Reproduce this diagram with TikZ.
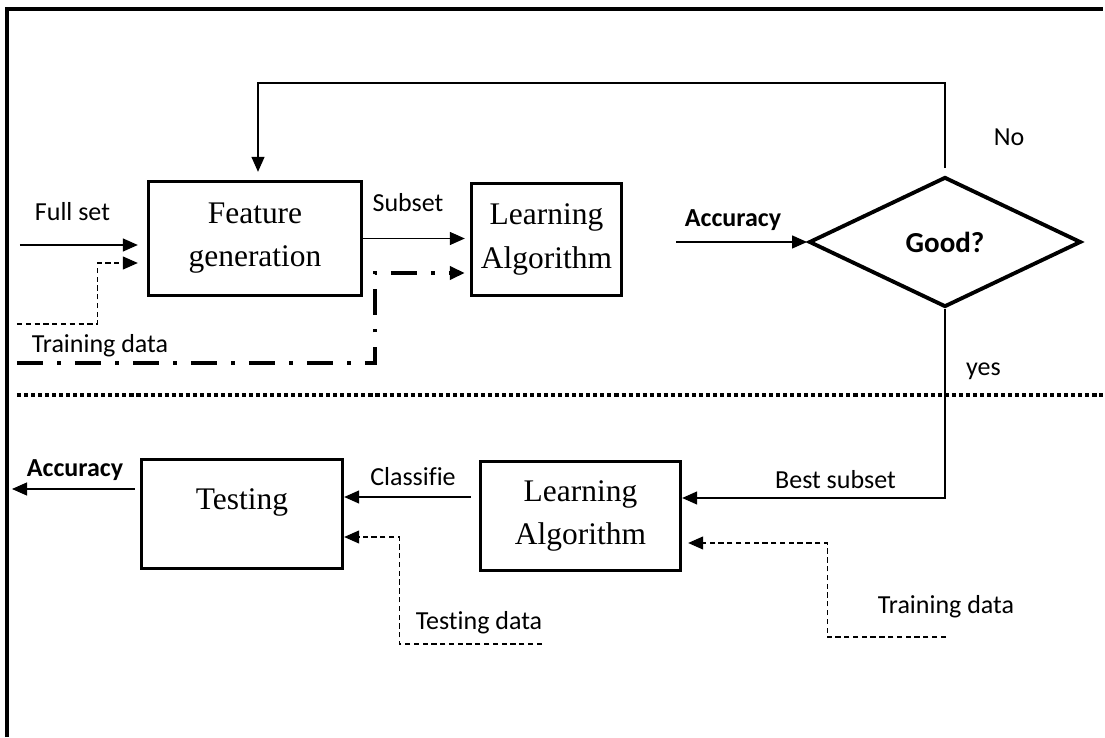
\documentclass[tikz,border=0pt]{standalone}
\usepackage{fontspec}
\setmainfont{Liberation Serif}
\newfontfamily\etiq[Ligatures=NoCommon]{Carlito}
\usetikzlibrary{calc}
\usetikzlibrary{arrows.meta}
\usetikzlibrary{shapes.geometric}
\tikzstyle{bloc}      =[draw, line width=1.9pt, align=center, inner sep=0pt, font=\fontsize{17.9}{24.5}\selectfont]
\tikzstyle{decision}  =[draw, diamond, line width=2.2pt, inner sep=0pt, minimum width=5.44cm, minimum height=2.6cm, font=\etiq\bfseries\fontsize{16.5}{20}\selectfont]
\tikzstyle{etiquette} =[inner sep=0pt, font=\etiq\fontsize{14.8}{18}\selectfont]
\tikzstyle{fleche}    =[line width=0.7pt, -{Triangle[length=0.3cm,width=0.26cm]}]
\tikzstyle{donnees}   =[fleche, line width=0.6pt, dash pattern=on 3pt off 2pt]
\tikzstyle{mixte}     =[line width=2.3pt, dash pattern=on 15pt off 8pt on 2pt off 8pt, -{Triangle[length=0.3cm,width=0.26cm]}]

\begin{document}
\begin{tikzpicture}
 \useasboundingbox (0,0) rectangle (22.1,14.74);
 % cadre et separation
 \draw[line width=2.6pt] (0.14,0) -- (0.14,14.56) -- (22.06,14.56);
 \draw[line width=2.3pt, dash pattern=on 2.3pt off 1.7pt] (0.34,6.84) -- (22.06,6.84);
 % selection
 \node[bloc, minimum width=4.26cm, minimum height=2.28cm] (feat) at (5.10,9.97) {Feature\\generation};
 \node[bloc, minimum width=3.0cm, minimum height=2.24cm] (learn) at (10.93,9.95) {Learning\\Algorithm};
 \node[decision] (good) at (18.9,9.9) {Good?};
 % test
 \node[bloc, minimum width=4.02cm, minimum height=2.18cm] (test) at (4.84,4.46) {};
 \node[font=\fontsize{17.9}{24.5}\selectfont, inner sep=0pt] (testlbl) at (4.84,4.685) {Testing};
 \node[bloc, minimum width=4.0cm, minimum height=2.18cm] (learnb) at (11.61,4.42) {Learning\\Algorithm};
 % etiquettes
 \node[etiquette] (lfull) at (1.45,10.5) {Full set};
 \node[etiquette] (ltrain) at (2.0,7.83) {Training data};
 \node[etiquette] (lsub) at (8.16,10.68) {Subset};
 \node[etiquette, font=\etiq\bfseries\fontsize{14.8}{18}\selectfont] (lacc) at (14.66,10.34) {Accuracy};
 \node[etiquette] (lno) at (20.18,12.0) {No};
 \node[etiquette] (lyes) at (19.67,7.31) {yes};
 \node[etiquette] (lbest) at (16.71,5.14) {Best subset};
 \node[etiquette] (lclass) at (8.26,5.2) {Classifie};
 \node[etiquette, font=\etiq\bfseries\fontsize{14.8}{18}\selectfont] (laccb) at (1.5,5.34) {Accuracy};
 \node[etiquette] (ltest) at (9.58,2.28) {Testing data};
 \node[etiquette] (ltrainb) at (18.92,2.6) {Training data};
 % points de depart
 \coordinate (entree) at (0.40,9.84);
 \coordinate (entreeapp) at (0.34,8.26);
 \coordinate (mixdep) at (0.34,7.48);
 \coordinate (precdep) at (13.52,9.9);
 \coordinate (retour) at (5.16,13.08);
 \coordinate (meilleur) at (18.9,4.78);
 \coordinate (classdep) at ($(learnb.west)+(0,0.38)$);
 \coordinate (precfin) at (0.24,4.96);
 \coordinate (testdep) at (10.84,1.86);
 \coordinate (testcoin) at ($(test.east)+(1.1,-0.46)$);
 \coordinate (appdep) at (18.92,2.0);
 \coordinate (appcoin) at ($(learnb.east)+(2.9,-0.54)$);
 \coordinate (appfeat) at ($(feat.west)+(-0.98,-0.49)$);
 \coordinate (mixcoin) at ($(learn.west)+(-1.9,-0.67)$);
 % fleches
 \draw[fleche, shorten >=0.18cm] (entree) -- (entree -| feat.west);
 \draw[donnees, shorten >=0.18cm] (entreeapp) -| (appfeat) -- (appfeat -| feat.west);
 \draw[fleche, shorten >=0.1cm] (feat.east) -- (feat.east -| learn.west);
 \draw[mixte, shorten >=0.1cm] (mixdep) -| (mixcoin) -- (mixcoin -| learn.west);
 \draw[fleche] (precdep) -- (good.west);
 \draw[fleche, shorten <=0.14cm, shorten >=0.16cm] (good.north) |- (retour) -- (retour |- feat.north);
 \draw[fleche] (good.south) -- (meilleur) -- (meilleur -| learnb.east);
 \draw[fleche, shorten <=0.16cm] (classdep) -- (classdep -| test.east);
 \draw[fleche, shorten <=0.1cm] (test.west |- precfin) -- (precfin);
 \draw[donnees] (testdep) -| (testcoin) -- (testcoin -| test.east);
 \draw[donnees, shorten >=0.12cm] (appdep) -| (appcoin) -- (appcoin -| learnb.east);
\end{tikzpicture}
\end{document}
